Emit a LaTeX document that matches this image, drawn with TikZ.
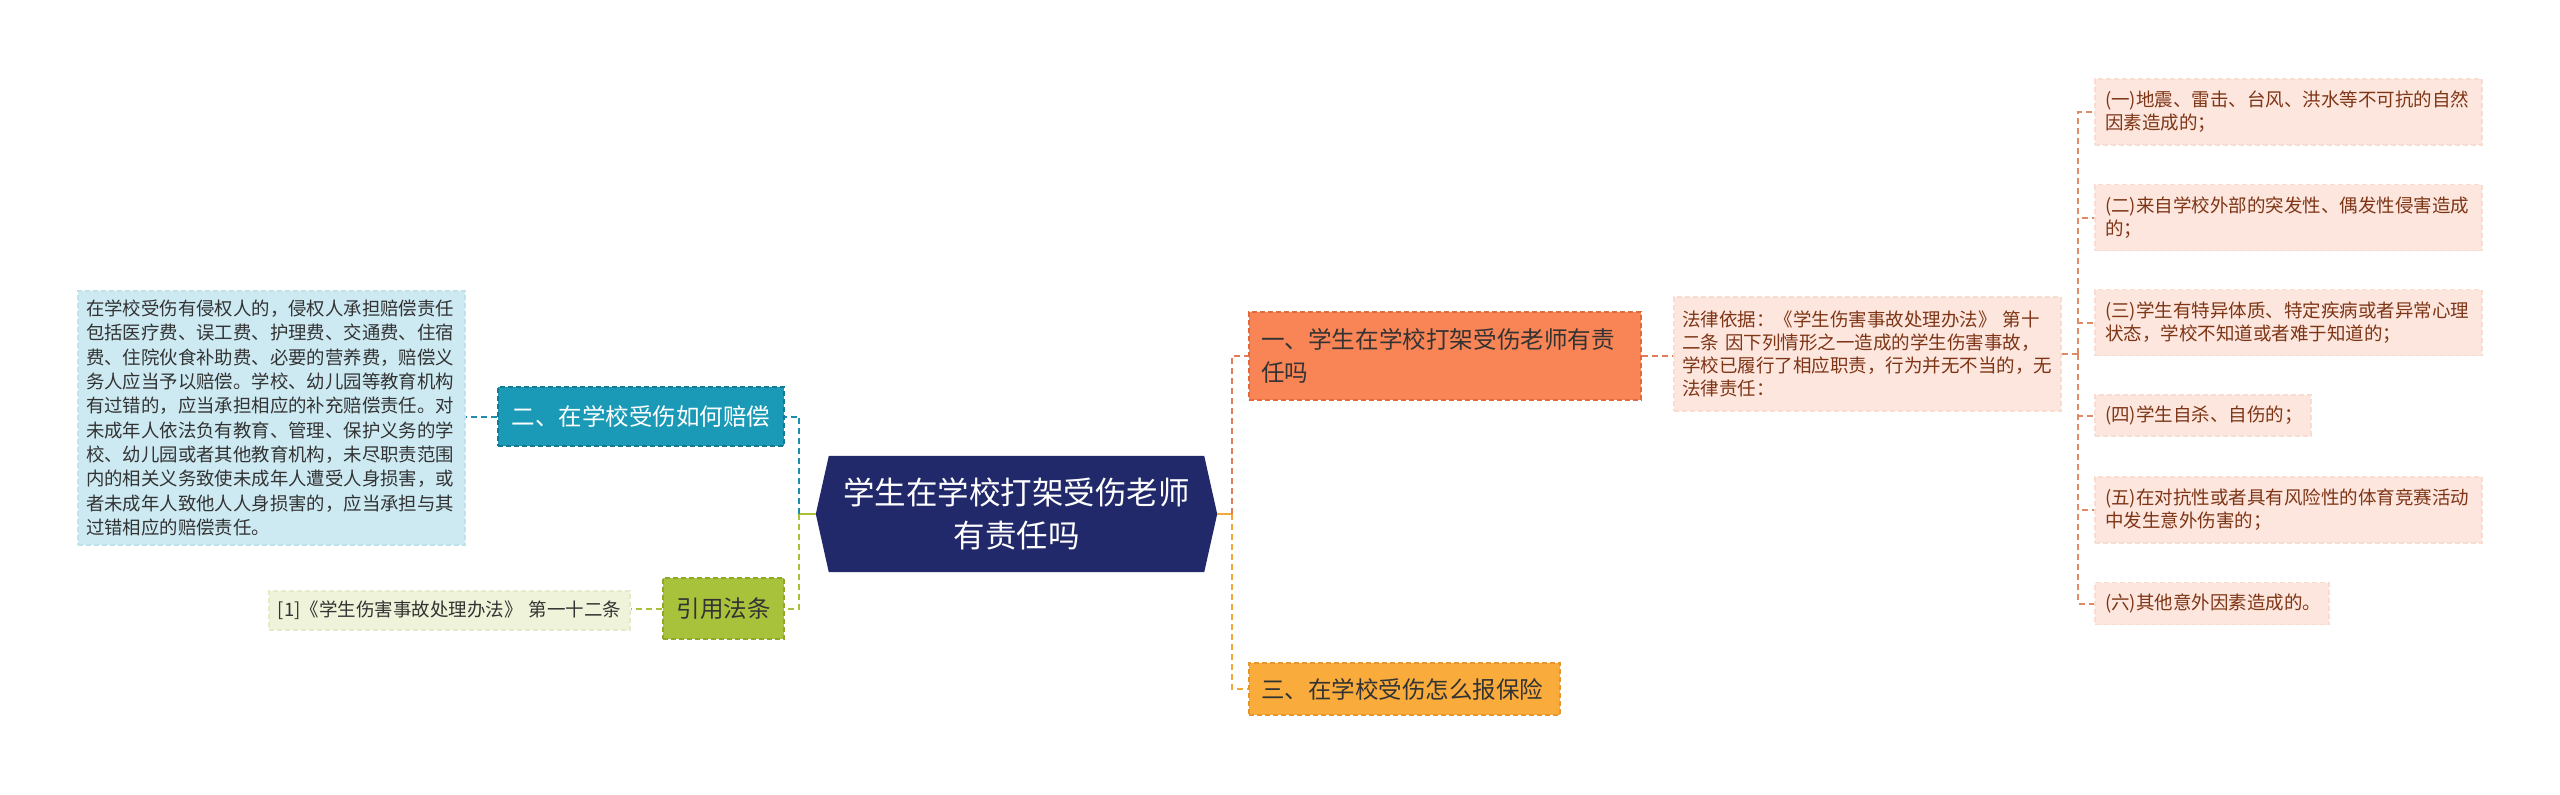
\documentclass[tikz,border=0pt]{standalone}
\usepackage{fontspec}
\setmainfont{Noto Sans CJK SC}
\usetikzlibrary{calc}
\pgfdeclarelayer{bg}
\pgfsetlayers{bg,main}
\newcommand\fsz[2]{\fontsize{#1}{#2}\selectfont}
\definecolor{navy}{HTML}{22296A}
\definecolor{teal}{HTML}{1B9AB7}
\definecolor{tealb}{HTML}{137A93}
\definecolor{lblue}{HTML}{CDEAF3}
\definecolor{lblueb}{HTML}{C0E2EC}
\definecolor{olive}{HTML}{A9C23B}
\definecolor{oliveb}{HTML}{8FA82A}
\definecolor{lolive}{HTML}{EEF3D9}
\definecolor{loliveb}{HTML}{E4EBC9}
\definecolor{coral}{HTML}{F98455}
\definecolor{coralb}{HTML}{E06A3C}
\definecolor{orng}{HTML}{F9AC3C}
\definecolor{orngb}{HTML}{E5952A}
\definecolor{lpink}{HTML}{FDE6DD}
\definecolor{lpinkb}{HTML}{F9DCD0}
\definecolor{brown}{HTML}{7E3516}
\definecolor{dtext}{HTML}{333333}
\definecolor{lnblue}{HTML}{1F8EAE}
\definecolor{lngreen}{HTML}{A8C03A}
\definecolor{lncoral}{HTML}{E27B57}
\definecolor{lnorng}{HTML}{F3A83C}
\definecolor{lnitem}{HTML}{DC8A68}
\begin{document}
\begin{tikzpicture}[x=1pt,y=-1pt,
  nbox/.style={rectangle, inner xsep=8pt, inner ysep=0pt, align=left, dashed, line width=1.2pt, dash pattern=on 5pt off 3pt},
  conn/.style={line width=2pt, dash pattern=on 6pt off 4pt},
  solidconn/.style={line width=2.5pt},
  itembox/.style={nbox, fill=lpink, draw=lpinkb, text=brown, inner xsep=10pt, font=\fsz{18.5}{23}, minimum height=66pt},
]
\useasboundingbox (0,0) rectangle (2560,795);

% centre
\node[inner sep=0pt, minimum width=375pt, minimum height=116pt, text width=375pt, align=center, text=white, font=\fsz{31.5}{42.5}] (c) at (1016.5,514) {学生在学校打架受伤老师\\有责任吗};
\begin{pgfonlayer}{bg}
\fill[white] (0,0) rectangle (2560,795);
\fill[navy] ([xshift=-13pt]c.west) -- (c.north west) -- (c.north east) -- ([xshift=13pt]c.east) -- (c.south east) -- (c.south west) -- cycle;
\end{pgfonlayer}
\coordinate (cL) at ([xshift=-13pt]c.west);
\coordinate (cR) at ([xshift=13pt]c.east);

% left side
\node[nbox, fill=teal, draw=tealb, text=white, minimum width=286pt, minimum height=59pt, text width=260pt, inner xsep=13pt, align=center, font=\fsz{23.5}{30}] (n2) at (641,416.5) {二、在学校受伤如何赔偿};
\node[nbox, fill=lblue, draw=lblueb, text=dtext, minimum width=387pt, minimum height=254pt, text width=371pt, font=\fsz{18.4}{24.3}] (b2t) at (271.5,418) {在学校受伤有侵权人的，侵权人承担赔偿责任\\包括医疗费、误工费、护理费、交通费、住宿\\费、住院伙食补助费、必要的营养费，赔偿义\\务人应当予以赔偿。学校、幼儿园等教育机构\\有过错的，应当承担相应的补充赔偿责任。对\\未成年人依法负有教育、管理、保护义务的学\\校、幼儿园或者其他教育机构，未尽职责范围\\内的相关义务致使未成年人遭受人身损害，或\\者未成年人致他人人身损害的，应当承担与其\\过错相应的赔偿责任。};
\node[nbox, fill=olive, draw=oliveb, text=dtext, minimum width=121pt, minimum height=61pt, text width=105pt, align=center, font=\fsz{23.5}{30}] (cite) at (723.5,608.5) {引用法条};
\node[nbox, fill=lolive, draw=loliveb, text=dtext, minimum width=361pt, minimum height=39pt, text width=345pt, align=center, font=\fsz{18.5}{23}] (ref) at (449.5,610.5) {[1]《学生伤害事故处理办法》 第一十二条};

% right side
\node[nbox, fill=coral, draw=coralb, text=dtext, minimum width=392pt, minimum height=88pt, text width=368pt, inner xsep=12pt, font=\fsz{23.6}{32.7}] (n1) at (1445,356) {一、学生在学校打架受伤老师有责\\任吗};
\node[nbox, fill=orng, draw=orngb, text=dtext, minimum width=311pt, minimum height=52pt, text width=287pt, inner xsep=12pt, font=\fsz{23.5}{30}] (n3) at (1404.5,689) {三、在学校受伤怎么报保险};
\node[nbox, fill=lpink, draw=lpinkb, text=brown, minimum width=387pt, minimum height=114pt, text width=371pt, font=\fsz{18.5}{23}] (legal) at (1867.5,354) {法律依据：《学生伤害事故处理办法》 第十\\二条 因下列情形之一造成的学生伤害事故，\\学校已履行了相应职责，行为并无不当的，无\\法律责任：};

\node[itembox, minimum width=387pt, text width=367pt] (i1) at (2288.5,112) {(一)地震、雷击、台风、洪水等不可抗的自然\\因素造成的；};
\node[itembox, minimum width=387pt, text width=367pt] (i2) at (2288.5,217.5) {(二)来自学校外部的突发性、偶发性侵害造成\\的；};
\node[itembox, minimum width=387pt, text width=367pt] (i3) at (2288.5,322.5) {(三)学生有特异体质、特定疾病或者异常心理\\状态，学校不知道或者难于知道的；};
\node[itembox, minimum width=216pt, text width=196pt, minimum height=41pt] (i4) at (2203,415.5) {(四)学生自杀、自伤的；};
\node[itembox, minimum width=387pt, text width=367pt] (i5) at (2288.5,510) {(五)在对抗性或者具有风险性的体育竞赛活动\\中发生意外伤害的；};
\node[itembox, minimum width=234pt, text width=214pt, minimum height=42pt] (i6) at (2212,603.5) {(六)其他意外因素造成的。};

% connectors left
\coordinate (jL) at (799,514);
\draw[solidconn, lngreen] (cL) -- (jL);
\draw[conn, lnblue] (jL) |- (n2.east);
\draw[conn, lngreen] (jL) |- (cite.east);
\draw[conn, lnblue] (n2.west) -- (n2.west -| b2t.east);
\draw[conn, lngreen] (cite.west) -- (cite.west -| ref.east);

% connectors right
\coordinate (jR) at (1232,514);
\draw[solidconn, lnorng] (cR) -- (jR);
\draw[conn, lncoral] (jR) |- (n1.west);
\draw[conn, lnorng] (jR) |- (n3.west);
\draw[conn, lncoral] (n1.east) -- (n1.east -| legal.west);
\coordinate (jI) at (2078,354);
\draw[conn, lnitem] (legal.east) -- (jI);
\foreach \i in {i1,i2,i3,i4,i5,i6} {
  \draw[conn, lnitem] (jI) |- (\i.west);
}
\end{tikzpicture}
\end{document}
